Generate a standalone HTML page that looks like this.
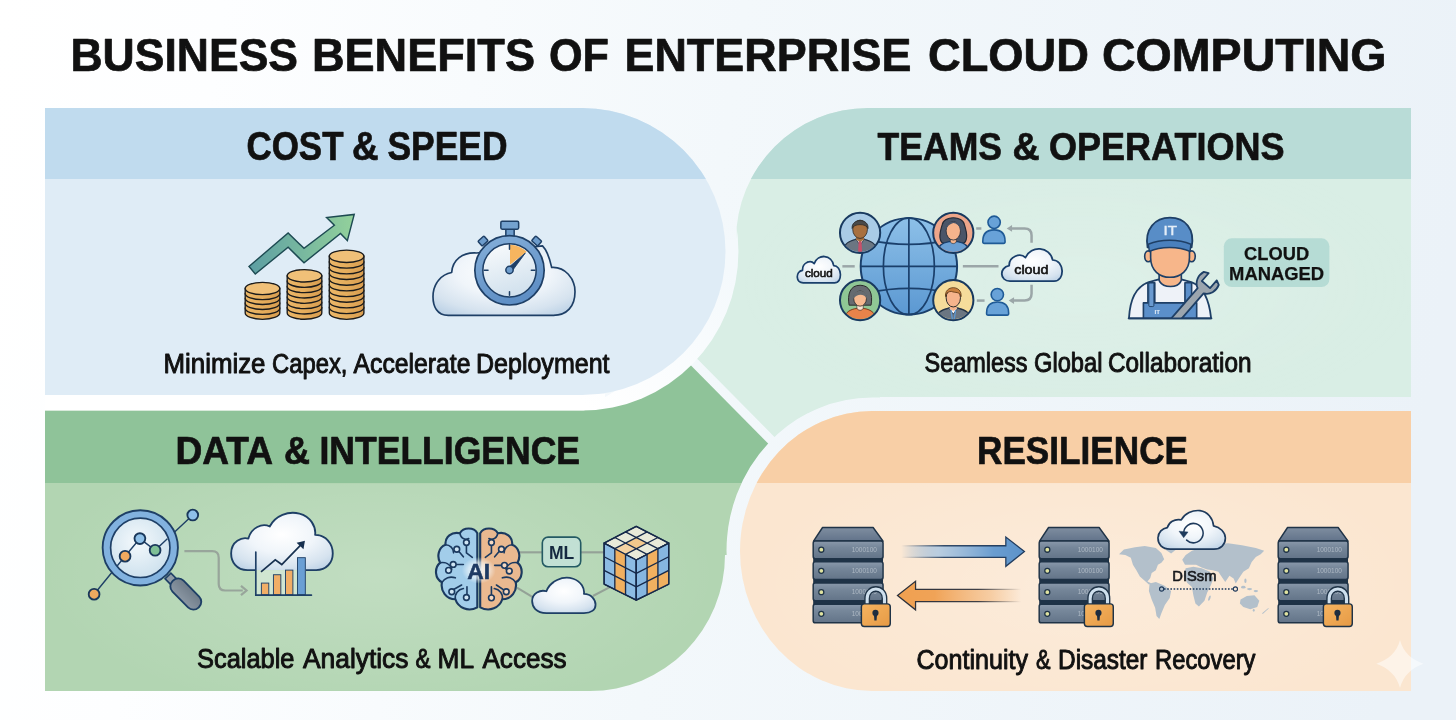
<!DOCTYPE html>
<html><head><meta charset="utf-8">
<style>
html,body{margin:0;padding:0;background:#f3f8fb;}
body{width:1456px;height:720px;overflow:hidden;font-family:"Liberation Sans",sans-serif;}
svg{display:block}
text{font-family:"Liberation Sans",sans-serif;fill:#111}
.h{font-weight:bold;stroke:#111;stroke-width:0.7px;stroke-linejoin:round}
.c{stroke:#111;stroke-width:0.95px;stroke-linejoin:round}
</style></head><body>
<svg width="1456" height="720" viewBox="0 0 1456 720">
<defs>
<linearGradient id="bg" gradientUnits="userSpaceOnUse" x1="0" y1="0" x2="1456" y2="220">
<stop offset="0" stop-color="#ffffff"/><stop offset="0.15" stop-color="#fdfeff"/><stop offset="0.5" stop-color="#f3f8fb"/><stop offset="1" stop-color="#ebf2f8"/>
</linearGradient>
<clipPath id="cTop"><rect x="0" y="0" width="1456" height="179"/></clipPath>
<clipPath id="cBot"><rect x="0" y="300" width="1456" height="183"/></clipPath>
<clipPath id="cAll"><path d="M1411,108 H868 A132,132 0 0 0 736,240 L690,240 L690,358 L775,444 H880 V397 H1411 Z"/><path d="M45,410.5 H584 L690,358 L775,444 V555 H725 A135,136 0 0 1 590,691 H45 Z"/><path d="M560,425 L690,345 L800,450 L760,480 Z"/><rect x="45" y="394" width="560" height="18"/></clipPath>
<path id="pBlue" d="M45,108 H582 A143.5,143.5 0 0 1 582,395 H45 Z"/>
<path id="pOrange" d="M1411,411 H872 A132,140 0 0 0 872,691 H1411 Z"/>
<path id="pMint" d="M1411,108 H868 A132,132 0 0 0 736,240 L690,240 L690,358 L775,444 H880 V397 H1411 Z"/>
<path id="pGreen" d="M45,410.5 H584 L690,358 L775,444 V555 H725 A135,136 0 0 1 590,691 H45 Z"/>
<radialGradient id="gCloud" cx="0.5" cy="0.38" r="0.72"><stop offset="0" stop-color="#ffffff"/><stop offset="0.45" stop-color="#f0f5fa"/><stop offset="0.8" stop-color="#d6e3ef"/><stop offset="1" stop-color="#bdd2e6"/></radialGradient>
<linearGradient id="gRing" gradientUnits="userSpaceOnUse" x1="600" y1="420" x2="740" y2="280"><stop offset="0" stop-color="#ffffff"/><stop offset="1" stop-color="#f4f9fc"/></linearGradient>
<filter id="fId" x="0" y="0" width="1456" height="720" filterUnits="userSpaceOnUse"><feOffset dx="0" dy="0"/></filter>
</defs>
<rect width="1456" height="720" fill="url(#bg)"/>
<g id="all" filter="url(#fId)">
<!-- PANELS -->
<defs>
<radialGradient id="gGlowG" gradientUnits="userSpaceOnUse" cx="380" cy="575" r="340" gradientTransform="translate(380,575) scale(1,0.42) translate(-380,-575)"><stop offset="0" stop-color="#ffffff" stop-opacity="0.2"/><stop offset="1" stop-color="#ffffff" stop-opacity="0"/></radialGradient>
<radialGradient id="gGlowO" gradientUnits="userSpaceOnUse" cx="1085" cy="585" r="340" gradientTransform="translate(1085,585) scale(1,0.42) translate(-1085,-585)"><stop offset="0" stop-color="#ffffff" stop-opacity="0.22"/><stop offset="1" stop-color="#ffffff" stop-opacity="0"/></radialGradient>
<radialGradient id="gGlowM" gradientUnits="userSpaceOnUse" cx="1080" cy="285" r="340" gradientTransform="translate(1080,285) scale(1,0.42) translate(-1080,-285)"><stop offset="0" stop-color="#ffffff" stop-opacity="0.14"/><stop offset="1" stop-color="#ffffff" stop-opacity="0"/></radialGradient>
</defs>
<g id="panels">
<use href="#pMint" fill="#d9eee5"/>
<use href="#pMint" fill="#b9dcd7" clip-path="url(#cTop)"/>
<use href="#pGreen" fill="#b2d5b2"/>
<use href="#pGreen" fill="#8fc399" clip-path="url(#cBot)"/>
<rect x="45" y="484" width="690" height="206" fill="url(#gGlowG)"/>
<rect x="745" y="180" width="666" height="216" fill="url(#gGlowM)"/>
<line x1="690" y1="358" x2="775" y2="444" stroke="url(#bg)" stroke-width="9"/>
<g clip-path="url(#cAll)">
<path d="M45,92.5 H582 A156.5,159 0 0 1 582,410.5 H45 Z" fill="url(#gRing)"/>
<use href="#pOrange" fill="none" stroke="url(#bg)" stroke-width="27"/>
</g>
<use href="#pBlue" fill="#dfecf6"/>
<use href="#pBlue" fill="#c0dbee" clip-path="url(#cTop)"/>
<use href="#pOrange" fill="#fbe6d0"/>
<use href="#pOrange" fill="#f8cfa6" clip-path="url(#cBot)"/>
<rect x="745" y="484" width="666" height="206" fill="url(#gGlowO)"/>
</g>
<!-- TEXT -->
<g id="texts">
<text class="h" x="70.48" y="71.3" font-size="46.4" textLength="227.54" lengthAdjust="spacingAndGlyphs">BUSINESS</text>
<text class="h" x="311.98" y="71.3" font-size="46.4" textLength="223.04" lengthAdjust="spacingAndGlyphs">BENEFITS</text>
<text class="h" x="548.98" y="71.3" font-size="46.4" textLength="60.02" lengthAdjust="spacingAndGlyphs">OF</text>
<text class="h" x="624.48" y="71.3" font-size="46.4" textLength="287.03" lengthAdjust="spacingAndGlyphs">ENTERPRISE</text>
<text class="h" x="927.98" y="71.3" font-size="46.4" textLength="161.04" lengthAdjust="spacingAndGlyphs">CLOUD</text>
<text class="h" x="1101.99" y="71.3" font-size="46.4" textLength="284.54" lengthAdjust="spacingAndGlyphs">COMPUTING</text>
<text class="h" x="246.49" y="160.1" font-size="40.2" textLength="97.01" lengthAdjust="spacingAndGlyphs">COST</text>
<text class="h" x="351.97" y="160.1" font-size="40.2" textLength="26.54" lengthAdjust="spacingAndGlyphs">&amp;</text>
<text class="h" x="387.49" y="160.1" font-size="40.2" textLength="120.02" lengthAdjust="spacingAndGlyphs">SPEED</text>
<text class="h" x="877.50" y="159.8" font-size="39.6" textLength="124.49" lengthAdjust="spacingAndGlyphs">TEAMS</text>
<text class="h" x="1012.46" y="159.8" font-size="39.6" textLength="27.08" lengthAdjust="spacingAndGlyphs">&amp;</text>
<text class="h" x="1048.99" y="159.8" font-size="39.6" textLength="235.51" lengthAdjust="spacingAndGlyphs">OPERATIONS</text>
<text class="h" x="175.45" y="463.5" font-size="38.4" textLength="97.58" lengthAdjust="spacingAndGlyphs">DATA</text>
<text class="h" x="284.01" y="463.5" font-size="38.4" textLength="26.00" lengthAdjust="spacingAndGlyphs">&amp;</text>
<text class="h" x="319.49" y="463.5" font-size="38.4" textLength="260.52" lengthAdjust="spacingAndGlyphs">INTELLIGENCE</text>
<text class="h" x="976.99" y="463.5" font-size="39.0" textLength="211.02" lengthAdjust="spacingAndGlyphs">RESILIENCE</text>
<text class="c" x="163.48" y="372.6" font-size="27" textLength="102.03" lengthAdjust="spacingAndGlyphs">Minimize</text>
<text class="c" x="271.98" y="372.6" font-size="27" textLength="75.53" lengthAdjust="spacingAndGlyphs">Capex,</text>
<text class="c" x="353.49" y="372.6" font-size="27" textLength="117.00" lengthAdjust="spacingAndGlyphs">Accelerate</text>
<text class="c" x="476.00" y="372.6" font-size="27" textLength="133.51" lengthAdjust="spacingAndGlyphs">Deployment</text>
<text class="c" x="924.51" y="372.0" font-size="27" textLength="102.99" lengthAdjust="spacingAndGlyphs">Seamless</text>
<text class="c" x="1033.98" y="372.0" font-size="27" textLength="68.53" lengthAdjust="spacingAndGlyphs">Global</text>
<text class="c" x="1107.99" y="372.0" font-size="27" textLength="143.51" lengthAdjust="spacingAndGlyphs">Collaboration</text>
<text class="c" x="197.00" y="668.3" font-size="27" textLength="97.50" lengthAdjust="spacingAndGlyphs">Scalable</text>
<text class="c" x="302.99" y="668.3" font-size="27" textLength="105.51" lengthAdjust="spacingAndGlyphs">Analytics</text>
<text class="c" x="415.54" y="668.3" font-size="27" textLength="14.97" lengthAdjust="spacingAndGlyphs">&amp;</text>
<text class="c" x="437.52" y="668.3" font-size="27" textLength="36.51" lengthAdjust="spacingAndGlyphs">ML</text>
<text class="c" x="482.47" y="668.3" font-size="27" textLength="84.03" lengthAdjust="spacingAndGlyphs">Access</text>
<text class="c" x="916.50" y="668.7" font-size="27" textLength="111.51" lengthAdjust="spacingAndGlyphs">Continuity</text>
<text class="c" x="1036.02" y="668.7" font-size="27" textLength="14.49" lengthAdjust="spacingAndGlyphs">&amp;</text>
<text class="c" x="1058.02" y="668.7" font-size="27" textLength="89.49" lengthAdjust="spacingAndGlyphs">Disaster</text>
<text class="c" x="1155.01" y="668.7" font-size="27" textLength="100.49" lengthAdjust="spacingAndGlyphs">Recovery</text>
</g>
<!-- COINS + ARROW -->
<defs>
<linearGradient id="gCoin" x1="0" y1="0" x2="1" y2="0"><stop offset="0" stop-color="#ebb768"/><stop offset="0.5" stop-color="#e5ad5c"/><stop offset="1" stop-color="#d89d50"/></linearGradient>
<linearGradient id="gArr" x1="0" y1="0" x2="1" y2="0"><stop offset="0" stop-color="#5c9ea3"/><stop offset="1" stop-color="#93d19b"/></linearGradient>
</defs>
<g id="coins">
<g transform="translate(230,200) scale(0.18054)">
<path d="M105,368 L322,183 L410,268 L578,140 L535,97 L688,80 L650,225 L612,185 L410,348 L322,262 L140,410 Z" fill="url(#gArr)" stroke="#1d4a52" stroke-width="8" stroke-linejoin="miter"/>
</g>
<path d="M245.20,308.18 V313.10 A17.30,6.20 0 0 0 279.80,313.10 V308.18 Z" fill="url(#gCoin)" stroke="#1b1b1b" stroke-width="1.35"/>
<path d="M245.20,303.26 V308.18 A17.30,6.20 0 0 0 279.80,308.18 V303.26 Z" fill="url(#gCoin)" stroke="#1b1b1b" stroke-width="1.35"/>
<path d="M245.20,298.34 V303.26 A17.30,6.20 0 0 0 279.80,303.26 V298.34 Z" fill="url(#gCoin)" stroke="#1b1b1b" stroke-width="1.35"/>
<path d="M245.20,293.42 V298.34 A17.30,6.20 0 0 0 279.80,298.34 V293.42 Z" fill="url(#gCoin)" stroke="#1b1b1b" stroke-width="1.35"/>
<path d="M245.20,288.50 V293.42 A17.30,6.20 0 0 0 279.80,293.42 V288.50 Z" fill="url(#gCoin)" stroke="#1b1b1b" stroke-width="1.35"/>
<ellipse cx="262.50" cy="288.50" rx="17.30" ry="6.20" fill="#f0c078" stroke="#1b1b1b" stroke-width="1.35"/>
<path d="M287.20,307.77 V313.10 A17.30,6.20 0 0 0 321.80,313.10 V307.77 Z" fill="url(#gCoin)" stroke="#1b1b1b" stroke-width="1.35"/>
<path d="M287.20,302.44 V307.77 A17.30,6.20 0 0 0 321.80,307.77 V302.44 Z" fill="url(#gCoin)" stroke="#1b1b1b" stroke-width="1.35"/>
<path d="M287.20,297.11 V302.44 A17.30,6.20 0 0 0 321.80,302.44 V297.11 Z" fill="url(#gCoin)" stroke="#1b1b1b" stroke-width="1.35"/>
<path d="M287.20,291.79 V297.11 A17.30,6.20 0 0 0 321.80,297.11 V291.79 Z" fill="url(#gCoin)" stroke="#1b1b1b" stroke-width="1.35"/>
<path d="M287.20,286.46 V291.79 A17.30,6.20 0 0 0 321.80,291.79 V286.46 Z" fill="url(#gCoin)" stroke="#1b1b1b" stroke-width="1.35"/>
<path d="M287.20,281.13 V286.46 A17.30,6.20 0 0 0 321.80,286.46 V281.13 Z" fill="url(#gCoin)" stroke="#1b1b1b" stroke-width="1.35"/>
<path d="M287.20,275.80 V281.13 A17.30,6.20 0 0 0 321.80,281.13 V275.80 Z" fill="url(#gCoin)" stroke="#1b1b1b" stroke-width="1.35"/>
<ellipse cx="304.50" cy="275.80" rx="17.30" ry="6.20" fill="#f0c078" stroke="#1b1b1b" stroke-width="1.35"/>
<path d="M329.30,307.42 V313.10 A17.30,6.20 0 0 0 363.90,313.10 V307.42 Z" fill="url(#gCoin)" stroke="#1b1b1b" stroke-width="1.35"/>
<path d="M329.30,301.74 V307.42 A17.30,6.20 0 0 0 363.90,307.42 V301.74 Z" fill="url(#gCoin)" stroke="#1b1b1b" stroke-width="1.35"/>
<path d="M329.30,296.06 V301.74 A17.30,6.20 0 0 0 363.90,301.74 V296.06 Z" fill="url(#gCoin)" stroke="#1b1b1b" stroke-width="1.35"/>
<path d="M329.30,290.38 V296.06 A17.30,6.20 0 0 0 363.90,296.06 V290.38 Z" fill="url(#gCoin)" stroke="#1b1b1b" stroke-width="1.35"/>
<path d="M329.30,284.70 V290.38 A17.30,6.20 0 0 0 363.90,290.38 V284.70 Z" fill="url(#gCoin)" stroke="#1b1b1b" stroke-width="1.35"/>
<path d="M329.30,279.02 V284.70 A17.30,6.20 0 0 0 363.90,284.70 V279.02 Z" fill="url(#gCoin)" stroke="#1b1b1b" stroke-width="1.35"/>
<path d="M329.30,273.34 V279.02 A17.30,6.20 0 0 0 363.90,279.02 V273.34 Z" fill="url(#gCoin)" stroke="#1b1b1b" stroke-width="1.35"/>
<path d="M329.30,267.66 V273.34 A17.30,6.20 0 0 0 363.90,273.34 V267.66 Z" fill="url(#gCoin)" stroke="#1b1b1b" stroke-width="1.35"/>
<path d="M329.30,261.98 V267.66 A17.30,6.20 0 0 0 363.90,267.66 V261.98 Z" fill="url(#gCoin)" stroke="#1b1b1b" stroke-width="1.35"/>
<path d="M329.30,256.30 V261.98 A17.30,6.20 0 0 0 363.90,261.98 V256.30 Z" fill="url(#gCoin)" stroke="#1b1b1b" stroke-width="1.35"/>
<ellipse cx="346.60" cy="256.30" rx="17.30" ry="6.20" fill="#f0c078" stroke="#1b1b1b" stroke-width="1.35"/>
</g>
<!-- CLOUD STOPWATCH -->
<defs>
<linearGradient id="gRingSW" x1="0" y1="0" x2="0.4" y2="1"><stop offset="0" stop-color="#86b0da"/><stop offset="1" stop-color="#5f8fc5"/></linearGradient>
<linearGradient id="gFace" x1="0" y1="0" x2="0.3" y2="1"><stop offset="0" stop-color="#fafcfd"/><stop offset="1" stop-color="#d3e2ee"/></linearGradient>
</defs>
<g id="stopwatch" transform="translate(420,210) scale(0.16667)">
<path d="M170,632 C100,632 78,575 78,520 C78,440 130,385 190,375 C195,300 255,252 340,258 L735,215 C770,250 780,300 790,345 C870,340 930,410 930,490 C930,580 880,632 800,632 Z" fill="url(#gCloud)" stroke="#1e3f66" stroke-width="10" stroke-linejoin="round"/>
<rect x="515" y="110" width="50" height="50" fill="#6d9ccc" stroke="#1e3f66" stroke-width="9"/>
<rect x="485" y="68" width="107" height="47" rx="8" fill="#74a2d0" stroke="#1e3f66" stroke-width="9"/>
<rect x="-24" y="-19" width="48" height="38" rx="5" transform="translate(378,186) rotate(-42)" fill="#6d9ccc" stroke="#1e3f66" stroke-width="9"/>
<rect x="-24" y="-19" width="48" height="38" rx="5" transform="translate(700,186) rotate(42)" fill="#6d9ccc" stroke="#1e3f66" stroke-width="9"/>
<circle cx="537" cy="362" r="208" fill="url(#gRingSW)" stroke="#1e3f66" stroke-width="10"/>
<circle cx="537" cy="362" r="160" fill="url(#gFace)" stroke="#1e3f66" stroke-width="9"/>
<path d="M540,208 A156,156 0 0 1 640,250 L540,328 Z" fill="#f6b55f"/>
<g stroke="#1e3f66" stroke-width="9" stroke-linecap="round">
<line x1="537" y1="208" x2="537" y2="236"/><line x1="668" y1="362" x2="690" y2="362"/><line x1="537" y1="490" x2="537" y2="512"/><line x1="385" y1="362" x2="408" y2="362"/>
</g>
<path d="M528,348 L632,258 L550,370 Z" fill="#1e3f66" stroke="#1e3f66" stroke-width="5" stroke-linejoin="round"/>
<circle cx="537" cy="360" r="22" fill="#6d9ccc" stroke="#1e3f66" stroke-width="9"/>
</g>
<!-- GLOBE + AVATARS -->
<defs>
<linearGradient id="gGlobe" x1="0" y1="0" x2="0" y2="1"><stop offset="0" stop-color="#8dc0e8"/><stop offset="1" stop-color="#5b98d2"/></linearGradient>
<clipPath id="av"><circle cx="0" cy="0" r="96"/></clipPath>
<path id="cloudS" d="M-85,50 C-125,50 -128,-5 -88,-12 C-90,-50 -45,-65 -25,-45 C-5,-95 70,-90 80,-35 C125,-35 130,50 85,50 Z"/>
</defs>
<g id="globe" transform="translate(785,200) scale(0.19917)">
<!-- connectors -->
<g stroke="#9ba6a8" stroke-width="12.5" fill="none" stroke-linecap="butt">
<line x1="288" y1="333" x2="350" y2="333"/><line x1="893" y1="333" x2="1072" y2="333"/>
<line x1="960" y1="143" x2="986" y2="143"/><line x1="963" y1="505" x2="1002" y2="505"/>
<path d="M1238,215 V178 Q1238,143 1203,143 H1135"/><path d="M1238,425 V470 Q1238,505 1203,505 H1145"/>
</g>
<path d="M1113,143 L1140,126 V160 Z" fill="#9ba6a8"/><path d="M1123,505 L1150,488 V522 Z" fill="#9ba6a8"/>
<!-- globe -->
<circle cx="622" cy="333" r="242" fill="url(#gGlobe)" stroke="#1a3f6b" stroke-width="10"/>
<g fill="none" stroke="#1a3f6b" stroke-width="8.5">
<line x1="379" y1="333" x2="865" y2="333"/><line x1="622" y1="90" x2="622" y2="576"/>
<ellipse cx="622" cy="333" rx="128" ry="243"/>
<path d="M418,200 Q622,245 826,200"/><path d="M418,466 Q622,421 826,466"/>
</g>
<!-- avatar TL -->
<g transform="translate(377,165)">
<circle r="100" fill="#a9cbe6"/>
<g clip-path="url(#av)">
<path d="M-85,100 C-85,50 -50,40 -20,32 L20,32 C50,40 85,50 85,100 Z" fill="#6b7682" stroke="#243447" stroke-width="6"/>
<path d="M-22,30 L0,62 L22,30 Z" fill="#f4f6f9" stroke="#243447" stroke-width="4"/>
<path d="M-7,40 L7,40 L10,95 L-10,95 Z" fill="#c8506a"/>
<path d="M-20,0 V35 L0,45 L20,35 V0 Z" fill="#a8703f"/>
<ellipse cx="0" cy="-18" rx="37" ry="46" fill="#a8703f" stroke="#2a2a2a" stroke-width="4"/>
<path d="M-40,-22 C-45,-75 45,-75 40,-22 C32,-48 -32,-48 -40,-22 Z" fill="#4a4a4a" stroke="#2a2a2a" stroke-width="4"/>
</g>
<circle r="101" fill="none" stroke="#18395f" stroke-width="10"/>
</g>
<!-- avatar TR -->
<g transform="translate(845,165)">
<circle r="100" fill="#eea68a"/>
<g clip-path="url(#av)">
<path d="M-52,52 C-80,35 -64,-15 -56,-40 C-48,-88 48,-88 56,-40 C64,-15 80,35 52,52 Z" fill="#4a5568" stroke="#232a36" stroke-width="6"/>
<path d="M-80,100 C-80,64 -50,48 -22,44 L22,44 C50,48 80,64 80,100 Z" fill="#6a9fd4" stroke="#1a3f6b" stroke-width="7"/>
<path d="M-15,18 V46 Q0,62 15,46 V18 Z" fill="#f6b48c" stroke="#232a36" stroke-width="3"/>
<ellipse cx="0" cy="-10" rx="36" ry="46" fill="#f6b48c" stroke="#232a36" stroke-width="4"/>
<path d="M-38,-8 C-44,-72 44,-72 38,-8 C34,-36 14,-50 0,-50 C-16,-46 -34,-34 -38,-8 Z" fill="#4a5568"/>
</g>
<circle r="101" fill="none" stroke="#18395f" stroke-width="10"/>
</g>
<!-- avatar BL -->
<g transform="translate(377,503)">
<circle r="100" fill="#8fc795"/>
<g clip-path="url(#av)">
<path d="M-55,25 C-65,-30 -50,-75 0,-75 C50,-75 65,-30 55,25 Z" fill="#666b70" stroke="#2a2a2a" stroke-width="5"/>
<path d="M-80,100 C-80,60 -45,45 -20,42 L20,42 C45,45 80,60 80,100 Z" fill="#e8834a" stroke="#7a3a1a" stroke-width="5"/>
<path d="M-16,15 V42 Q0,60 16,42 V15 Z" fill="#fbe3d0" stroke="#2a2a2a" stroke-width="3"/>
<ellipse cx="0" cy="-8" rx="32" ry="38" fill="#f7b990" stroke="#2a2a2a" stroke-width="4"/>
<path d="M-35,-8 C-38,-58 38,-58 35,-8 C22,-30 -10,-38 -35,-8 Z" fill="#666b70"/>
</g>
<circle r="101" fill="none" stroke="#18395f" stroke-width="10"/>
</g>
<!-- avatar BR -->
<g transform="translate(845,503)">
<circle r="100" fill="#f5dc9b"/>
<g clip-path="url(#av)">
<path d="M-88,100 C-88,58 -52,46 -22,40 L22,40 C52,46 88,58 88,100 Z" fill="#6b7682" stroke="#243447" stroke-width="7"/>
<path d="M-24,38 L0,70 L24,38 Z" fill="#f4f6f9" stroke="#243447" stroke-width="4"/>
<path d="M-12,48 L-4,100 M12,48 L4,100" stroke="#5e97cf" stroke-width="7" fill="none"/>
<path d="M-17,10 V44 L0,54 L17,44 V10 Z" fill="#f6b48c"/>
<ellipse cx="0" cy="-12" rx="36" ry="46" fill="#f6b48c" stroke="#2a2a2a" stroke-width="5"/>
<path d="M-39,-18 C-46,-78 46,-78 39,-18 C34,-44 10,-36 -10,-44 C-26,-44 -36,-36 -39,-18 Z" fill="#c9803f" stroke="#5a3516" stroke-width="4"/>
</g>
<circle r="101" fill="none" stroke="#18395f" stroke-width="10"/>
</g>
<!-- clouds -->
<g transform="translate(170,365)"><use href="#cloudS" transform="scale(0.93,1.02)" fill="url(#gCloud)" stroke="#1a3f6b" stroke-width="9" stroke-linejoin="round"/>
<text x="0" y="24" text-anchor="middle" font-size="52" stroke="#111" stroke-width="2.6" fill="#111" textLength="140" lengthAdjust="spacingAndGlyphs">cloud</text></g>
<g transform="translate(1240,345)"><use href="#cloudS" transform="scale(1.3,1.25)" fill="url(#gCloud)" stroke="#1a3f6b" stroke-width="7" stroke-linejoin="round"/>
<text x="-3" y="25" text-anchor="middle" font-size="62" stroke="#111" stroke-width="2.8" fill="#111" textLength="172" lengthAdjust="spacingAndGlyphs">cloud</text></g>
<!-- small people -->
<g fill="#68a2d8" stroke="#1f5a96" stroke-width="8" stroke-linejoin="round">
<circle cx="1050" cy="112" r="31"/><path d="M1001,218 Q993,218 993,208 C993,170 1015,150 1050,150 C1085,150 1105,170 1105,208 Q1105,218 1097,218 Z"/>
<circle cx="1066" cy="475" r="31"/><path d="M1020,578 Q1012,578 1012,568 C1012,530 1032,512 1067,512 C1102,512 1123,530 1123,568 Q1123,578 1115,578 Z"/>
</g>
</g>
<!-- IT PERSON + BADGE -->
<g id="itguy" transform="translate(1110,200) scale(0.18059)">
<!-- shirt -->
<path d="M105,655 C110,560 140,480 215,455 L270,440 L395,440 L450,455 C520,480 550,560 560,655 Z" fill="#eef2f8" stroke="#1e3f66" stroke-width="10" stroke-linejoin="round"/>
<!-- neck -->
<path d="M272,400 V445 C290,490 380,490 395,445 V400 Z" fill="#f7b68a" stroke="#1e3f66" stroke-width="9"/>
<!-- overalls -->
<path d="M210,458 H248 V570 H415 V458 H452 V570 H480 V655 H185 V570 H210 Z" fill="#5b8fca" stroke="#1e3f66" stroke-width="9" stroke-linejoin="round"/>
<rect x="215" y="460" width="28" height="130" rx="6" fill="#6a9ad0" stroke="#1e3f66" stroke-width="5"/>
<text x="262" y="632" font-size="34" font-weight="bold" fill="#eaf2fa" text-anchor="middle" style="fill:#eaf2fa">IT</text>
<!-- ears -->
<ellipse cx="212" cy="312" rx="20" ry="30" fill="#f7b68a" stroke="#1e3f66" stroke-width="9"/>
<ellipse cx="452" cy="312" rx="20" ry="30" fill="#f7b68a" stroke="#1e3f66" stroke-width="9"/>
<!-- face -->
<path d="M225,255 H440 V320 C440,390 390,428 332,428 C275,428 225,390 225,320 Z" fill="#f7b68a" stroke="#1e3f66" stroke-width="9"/>
<!-- cap -->
<path d="M208,262 C190,160 250,98 332,98 C415,98 472,160 452,262 C380,235 280,235 208,262 Z" fill="#588dc7" stroke="#1e3f66" stroke-width="10" stroke-linejoin="round"/>
<path d="M212,245 C280,215 380,215 448,245 L443,285 C380,255 280,255 218,285 Z" fill="#4a80bd" stroke="#1e3f66" stroke-width="8" stroke-linejoin="round"/>
<text x="334" y="196" font-size="74" text-anchor="middle" textLength="74" lengthAdjust="spacingAndGlyphs" style="fill:#e4eef8;stroke:#e4eef8;stroke-width:2.5">IT</text>
<!-- wrench -->
<clipPath id="cIT"><rect x="0" y="0" width="700" height="655"/></clipPath>
<g clip-path="url(#cIT)"><g transform="translate(528,472) rotate(41)">
<path d="M-22,40 V300 H22 V40 C55,25 68,-15 55,-50 L30,-62 V-5 H-30 V-62 L-55,-50 C-68,-15 -55,25 -22,40 Z" fill="#9ba5ae" stroke="#1e3f66" stroke-width="10" stroke-linejoin="round"/>
</g></g>
<line x1="103" y1="655" x2="562" y2="655" stroke="#1e3f66" stroke-width="10" stroke-linecap="round"/>
</g>
<g id="badge">
<rect x="1223.8" y="238.3" width="105.6" height="48.7" rx="8" fill="#b6dcd5"/>
<text class="h" x="1276.6" y="260" font-size="18.4" text-anchor="middle" textLength="65" lengthAdjust="spacingAndGlyphs" style="stroke-width:0.25px">CLOUD</text>
<text class="h" x="1276.6" y="279.6" font-size="18.4" text-anchor="middle" textLength="95" lengthAdjust="spacingAndGlyphs" style="stroke-width:0.25px">MANAGED</text>
</g>
<!-- MAGNIFIER + CLOUD CHART -->
<defs>
<radialGradient id="gLens" cx="0.45" cy="0.4" r="0.6"><stop offset="0" stop-color="#f4f9fc"/><stop offset="1" stop-color="#cfe2ee"/></radialGradient>
<linearGradient id="gHandle" x1="0" y1="0" x2="1" y2="0"><stop offset="0" stop-color="#8b97a3"/><stop offset="1" stop-color="#6f7c89"/></linearGradient>
</defs>
<g id="magnifier" transform="translate(75,495) scale(0.18544)">
<!-- gray connector -->
<path d="M590,303 H740 Q775,303 775,338 V480 Q775,515 810,515 H905" fill="none" stroke="#98a59b" stroke-width="12"/>
<path d="M895,490 L925,515 L895,540" fill="none" stroke="#98a59b" stroke-width="12" stroke-linejoin="miter"/>
<!-- data line behind -->
<polyline points="103,535 270,330 350,235 432,298 635,108" fill="none" stroke="#1e3f66" stroke-width="7.5"/>
<!-- handle -->
<g transform="translate(505,440) rotate(-44.5)">
<rect x="-22" y="-5" width="44" height="45" fill="#8f9ba6" stroke="#1e3f66" stroke-width="9"/>
<rect x="-42" y="32" width="84" height="200" rx="40" fill="url(#gHandle)" stroke="#1e3f66" stroke-width="10"/>
</g>
<!-- lens -->
<circle cx="352" cy="285" r="203" fill="#82b2df" stroke="#1e3f66" stroke-width="10"/>
<circle cx="352" cy="285" r="160" fill="url(#gLens)" stroke="#1e3f66" stroke-width="9"/>
<polyline points="226,384 270,330 350,235 432,298 498,236" fill="none" stroke="#1e3f66" stroke-width="7.5"/>
<g stroke="#19375a" stroke-width="10">
<circle cx="103" cy="535" r="29" fill="#efa95f"/>
<circle cx="270" cy="330" r="29" fill="#efa95f"/>
<circle cx="350" cy="235" r="29" fill="#8fc0e8"/>
<circle cx="432" cy="298" r="29" fill="#7fc096"/>
<circle cx="635" cy="108" r="29" fill="#8fc0e8"/>
</g>
<!-- cloud -->
<path d="M930,405 C870,405 842,360 842,315 C842,250 900,225 935,235 C950,175 1010,150 1050,170 C1080,110 1150,85 1210,100 C1270,115 1300,170 1295,215 C1350,215 1390,260 1390,315 C1390,365 1355,405 1300,405 Z" fill="url(#gCloud)"/>
<path d="M975,405 H930 C870,405 842,360 842,315 C842,250 900,225 935,235 C950,175 1010,150 1050,170 C1080,110 1150,85 1210,100 C1270,115 1300,170 1295,215 C1350,215 1390,260 1390,315 C1390,365 1355,405 1300,405 H1245" fill="none" stroke="#1e3f66" stroke-width="10" stroke-linejoin="round"/>
<rect x="979" y="405" width="266" height="132" fill="#ffffff" opacity="0.3"/>
<!-- bars -->
<g stroke="#1e3f66" stroke-width="5">
<rect x="1005" y="475" width="40" height="63" fill="#f1ae66"/>
<rect x="1070" y="430" width="40" height="108" fill="#f1ae66"/>
<rect x="1135" y="405" width="40" height="133" fill="#f1ae66"/>
<rect x="1200" y="338" width="42" height="200" fill="#6a9fd4"/>
</g>
<path d="M975,308 V540 H1275" fill="none" stroke="#1e3f66" stroke-width="9" stroke-linecap="round"/>
<polyline points="1003,415 1080,350 1115,375 1222,265" fill="none" stroke="#17304f" stroke-width="9" stroke-linejoin="miter"/>
<path d="M1240,247 L1195,258 L1232,292 Z" fill="#17304f"/>
</g>
<!-- BRAIN + ML + CLOUD + CUBE -->
<g id="brain" transform="translate(425,510) scale(0.17857)">
<!-- connectors -->
<g stroke="#94a297" stroke-width="12" fill="none">
<line x1="515" y1="237" x2="660" y2="237"/><line x1="870" y1="237" x2="1005" y2="237"/>
<line x1="515" y1="435" x2="610" y2="492"/><line x1="940" y1="482" x2="1035" y2="432"/>
</g>
<!-- brain left -->
<path d="M293,130 C275,95 215,95 195,130 C150,120 110,150 115,195 C75,210 65,260 85,295 C50,325 55,385 95,405 C85,455 120,500 170,500 C185,545 240,575 293,545 Z" fill="#a2cdea" stroke="#1b3a60" stroke-width="12" stroke-linejoin="round"/>
<!-- brain right -->
<path d="M309,130 C328,95 388,95 408,130 C453,120 493,150 488,195 C528,210 538,260 518,295 C553,325 548,385 508,405 C518,455 483,500 433,500 C418,545 363,575 309,545 Z" fill="#eab990" stroke="#1b3a60" stroke-width="12" stroke-linejoin="round"/>
<!-- folds -->
<g fill="none" stroke="#1b3a60" stroke-width="9" stroke-linecap="round">
<path d="M195,130 C200,160 225,170 245,160"/><path d="M115,195 C140,195 160,215 160,240"/><path d="M85,295 C115,290 140,305 150,330"/><path d="M95,405 C110,380 140,370 170,380"/><path d="M170,500 C165,470 185,445 215,440"/>
<path d="M408,130 C403,160 378,170 358,160"/><path d="M488,195 C463,195 443,215 443,240"/><path d="M518,295 C488,290 463,305 453,330"/><path d="M508,405 C493,380 463,370 433,380"/><path d="M433,500 C438,470 418,445 388,440"/>
<!-- circuits -->
<path d="M232,195 V240 L265,265"/><path d="M190,232 L215,262"/><path d="M170,305 H215"/><path d="M160,445 L205,420"/><path d="M235,478 V430"/>
<path d="M372,195 V240 L338,265"/><path d="M415,232 L390,262"/><path d="M433,310 H390"/><path d="M445,450 L400,420"/><path d="M372,480 V430"/>
</g>
<g fill="#cfe5f4" stroke="#1b3a60" stroke-width="9">
<circle cx="232" cy="182" r="16"/><circle cx="178" cy="220" r="16"/><circle cx="158" cy="305" r="16"/><circle cx="132" cy="338" r="16"/><circle cx="150" cy="458" r="16"/><circle cx="232" cy="490" r="16"/>
</g>
<g fill="#f6d9c2" stroke="#1b3a60" stroke-width="9">
<circle cx="372" cy="182" r="16"/><circle cx="428" cy="220" r="16"/><circle cx="445" cy="310" r="16"/><circle cx="472" cy="342" r="16"/><circle cx="455" cy="458" r="16"/><circle cx="372" cy="492" r="16"/>
</g>
<defs><radialGradient id="gGlow"><stop offset="0" stop-color="#f4f9fc" stop-opacity="0.95"/><stop offset="0.6" stop-color="#f4f9fc" stop-opacity="0.6"/><stop offset="1" stop-color="#f4f9fc" stop-opacity="0"/></radialGradient></defs>
<ellipse cx="301" cy="338" rx="95" ry="75" fill="url(#gGlow)"/>
<text x="301" y="384" font-size="126" font-weight="bold" text-anchor="middle" textLength="128" lengthAdjust="spacingAndGlyphs" style="fill:#1e3a63;stroke:#1e3a63;stroke-width:3">AI</text>
<!-- ML box -->
<rect x="657" y="152" width="215" height="166" rx="32" fill="#c2e0d4" stroke="#245a63" stroke-width="9"/>
<text x="765" y="276" font-size="104" font-weight="bold" text-anchor="middle" textLength="142" lengthAdjust="spacingAndGlyphs" style="fill:#14283f">ML</text>
<!-- cloud -->
<path d="M680,577 C620,577 600,540 600,510 C600,465 645,445 680,455 C700,400 770,365 830,385 C875,400 895,440 890,470 C930,470 955,500 955,530 C955,560 930,577 890,577 Z" fill="url(#gCloud)" stroke="#1e3f66" stroke-width="10" stroke-linejoin="round"/>
<!-- cube -->
<g stroke="#16294a" stroke-width="7.5" stroke-linejoin="round">
<path d="M1183,92 L1365,185 L1183,280 L1003,185 Z" fill="#e9ead9"/>
<path d="M1003,185 L1183,280 V505 L1003,415 Z" fill="#8dbce4"/>
<path d="M1365,185 L1183,280 V505 L1365,415 Z" fill="#86b6e0"/>
</g>
<!-- cube coloured cells -->
<path d="M1063,216.7 L1123,248.3 V473.3 L1063,443.3 Z" fill="#f1b060"/>
<path d="M1243.7,248.3 L1304.3,216.7 V445 L1243.7,475 Z" fill="#f1b060"/>
<path d="M1304.3,368.9 L1365,338.3 V415 L1304.3,445 Z" fill="#f1b060"/>
<path d="M1183.7,154 L1244.3,185 L1184.3,216 L1123.7,185 Z" fill="#f3c88c"/>
<path d="M1123.7,185 L1184.3,216 L1124.3,247 L1063.7,216 Z" fill="#f5d3a3"/>
<g stroke="#16294a" stroke-width="7.5" fill="none" stroke-linejoin="round">
<path d="M1123,123 L1304.3,216.7 V445 M1063,154 L1243.7,248.3 V475 M1243.7,123 L1063,216.7 V443.3 M1304.3,154 L1123,248.3 V473.3"/>
<path d="M1003,261.7 L1183,355 L1365,261.7 M1003,338.3 L1183,430 L1365,338.3"/>
<path d="M1183,92 L1365,185 V415 L1183,505 L1003,415 V185 Z M1003,185 L1183,280 L1365,185 M1183,280 V505"/>
</g>
</g>
<!-- RESILIENCE: servers, arrows, map -->
<defs>
<linearGradient id="gSrv" x1="0" y1="0" x2="0" y2="1"><stop offset="0" stop-color="#8a99ab"/><stop offset="0.35" stop-color="#76879a"/><stop offset="1" stop-color="#637488"/></linearGradient>
<linearGradient id="gSrvTop" x1="0" y1="0" x2="0" y2="1"><stop offset="0" stop-color="#7f8ea0"/><stop offset="1" stop-color="#62738a"/></linearGradient>
<linearGradient id="gLock" x1="0" y1="0" x2="1" y2="1"><stop offset="0" stop-color="#f6b460"/><stop offset="1" stop-color="#e69a45"/></linearGradient>
<linearGradient id="gBlueArr" x1="0" y1="0" x2="1" y2="0"><stop offset="0" stop-color="#6a9dd0" stop-opacity="0"/><stop offset="0.3" stop-color="#a9c6e2" stop-opacity="0.8"/><stop offset="0.75" stop-color="#6a9dd0"/><stop offset="1" stop-color="#5c92c9"/></linearGradient>
<linearGradient id="gBlueArrS" x1="0" y1="0" x2="1" y2="0"><stop offset="0" stop-color="#1f3a5c" stop-opacity="0"/><stop offset="0.35" stop-color="#1f3a5c" stop-opacity="0.9"/><stop offset="1" stop-color="#1f3a5c"/></linearGradient>
<linearGradient id="gOrArr" x1="0" y1="0" x2="1" y2="0"><stop offset="0" stop-color="#f0a050"/><stop offset="0.3" stop-color="#f0a357"/><stop offset="0.75" stop-color="#f5c595" stop-opacity="0.8"/><stop offset="1" stop-color="#f5c595" stop-opacity="0"/></linearGradient>
<linearGradient id="gOrArrS" x1="0" y1="0" x2="1" y2="0"><stop offset="0" stop-color="#2a2f3a"/><stop offset="0.65" stop-color="#2a2f3a" stop-opacity="0.9"/><stop offset="1" stop-color="#2a2f3a" stop-opacity="0"/></linearGradient>
<g id="server">
<!-- zoom coords (scale 5.5385), origin at (800,510) -->
<path d="M125,97 H405 L460,172 H75 Z" fill="url(#gSrvTop)" stroke="#1f3347" stroke-width="8" stroke-linejoin="round"/>
<rect x="73" y="180" width="387" height="440" rx="12" fill="#1f3347"/>
<g fill="url(#gSrv)" stroke="#1f3347" stroke-width="8">
<rect x="73" y="172" width="387" height="98" rx="12"/>
<rect x="73" y="287" width="387" height="98" rx="12"/>
<rect x="73" y="404" width="387" height="98" rx="12"/>
<rect x="73" y="522" width="387" height="103" rx="12"/>
</g>
<g fill="#e0e3a0" stroke="#1f3347" stroke-width="7">
<circle cx="118" cy="220" r="14"/><circle cx="118" cy="337" r="14"/><circle cx="118" cy="455" r="14"/><circle cx="118" cy="575" r="14"/>
</g>
<g font-size="40" style="fill:#b7c1cb" opacity="0.85">
<text x="286" y="234" textLength="140" lengthAdjust="spacingAndGlyphs" style="fill:#b7c1cb">1000100</text>
<text x="286" y="351" textLength="140" lengthAdjust="spacingAndGlyphs" style="fill:#b7c1cb">1000100</text>
<text x="286" y="468" textLength="140" lengthAdjust="spacingAndGlyphs" style="fill:#b7c1cb">1000100</text>
<text x="286" y="588" textLength="140" lengthAdjust="spacingAndGlyphs" style="fill:#b7c1cb">1000100</text>
</g>
</g>
<g id="lock">
<!-- lock -->
<path d="M372,530 V490 C372,420 468,420 468,490 V530" fill="none" stroke="#1f3347" stroke-width="32"/>
<path d="M372,530 V490 C372,420 468,420 468,490 V530" fill="none" stroke="#cfe0ee" stroke-width="17"/>
<rect x="340" y="520" width="160" height="125" rx="16" fill="url(#gLock)" stroke="#1f3347" stroke-width="8"/>
<circle cx="418" cy="570" r="17" fill="#1f2d3f"/><path d="M409,575 H427 L424,612 H412 Z" fill="#1f2d3f"/>
</g>
</defs>
<g id="resilience">
<use href="#server" transform="translate(800,510) scale(0.18055)"/><use href="#lock" transform="translate(800,510) scale(0.18055)"/>
<use href="#server" transform="translate(1026,510) scale(0.18055)"/><use href="#lock" transform="translate(1023,510) scale(0.18055)"/>
<use href="#server" transform="translate(1265,510) scale(0.18055)"/><use href="#lock" transform="translate(1262,510) scale(0.18055)"/>
<!-- arrows -->
<g transform="translate(800,510) scale(0.18055)">
<path d="M560,198 H1140 V150 L1243,230 L1140,312 V262 H560 Z" fill="url(#gBlueArr)"/>
<path d="M560,198 H1140 V150 L1243,230 L1140,312 V262 H560" fill="none" stroke="url(#gBlueArrS)" stroke-width="7" stroke-linejoin="miter"/>
<path d="M1225,440 H640 V395 L540,473 L640,553 V508 H1225 Z" fill="url(#gOrArr)"/>
<path d="M1225,440 H640 V395 L540,473 L640,553 V508 H1225" fill="none" stroke="url(#gOrArrS)" stroke-width="7" stroke-linejoin="miter"/>
</g>
<!-- world map -->
<g transform="translate(1110,530) scale(0.13889)" fill="#b3c0cb">
<path d="M65,175 L100,140 L180,125 L250,115 L330,130 L370,165 L390,210 L370,235 L345,250 L330,290 L300,310 L290,345 L270,370 L300,385 L280,392 L250,365 L215,335 L190,290 L165,250 L150,200 L110,180 Z"/>
<path d="M400,105 L470,95 L490,130 L440,170 L405,145 Z"/>
<path d="M285,385 L330,375 L390,400 L440,440 L430,490 L395,540 L370,600 L355,640 L335,620 L325,560 L300,500 L280,440 Z"/>
<path d="M520,215 L545,180 L590,150 L650,130 L760,105 L850,95 L950,110 L1050,130 L1110,150 L1085,175 L1050,195 L1020,230 L1000,275 L960,300 L930,345 L905,385 L890,350 L860,330 L830,375 L810,345 L780,300 L740,290 L700,285 L660,270 L620,250 L580,250 L540,250 Z"/>
<path d="M545,275 L600,265 L660,275 L720,300 L745,350 L725,400 L700,450 L680,510 L640,550 L615,530 L600,470 L590,410 L555,380 L530,330 Z"/>
<path d="M940,500 L985,475 L1040,470 L1075,510 L1060,555 L1010,570 L960,555 L935,530 Z"/>
<ellipse cx="960" cy="412" rx="16" ry="10"/><ellipse cx="1005" cy="425" rx="18" ry="8"/><ellipse cx="1050" cy="440" rx="16" ry="8"/><ellipse cx="975" cy="365" rx="8" ry="16"/>
<ellipse cx="716" cy="490" rx="7" ry="20" transform="rotate(20 716 490)"/><path d="M1095,600 L1140,562 L1143,566 L1100,604 Z"/><ellipse cx="1035" cy="578" rx="7" ry="10"/>
</g>
<!-- dotted line + text -->
<line x1="1164" y1="589" x2="1233" y2="589" stroke="#1f3a5c" stroke-width="1.5" stroke-dasharray="1.6 1.6"/>
<circle cx="1161.6" cy="589" r="2.1" fill="none" stroke="#1f3a5c" stroke-width="1.1"/><circle cx="1235.4" cy="589" r="2.1" fill="none" stroke="#1f3a5c" stroke-width="1.1"/>
<text x="1172.3" y="580.7" font-size="14.6" textLength="44.2" lengthAdjust="spacingAndGlyphs" style="fill:#16181c;stroke:#16181c;stroke-width:0.6px">DISsm</text>
<!-- refresh cloud -->
<g transform="translate(1150,505) scale(0.069444)">
<path d="M290,635 C170,635 115,560 115,480 C115,390 180,335 250,325 C270,250 350,195 450,215 C500,120 610,70 720,80 C830,95 905,190 915,300 C1010,320 1085,390 1085,480 C1085,570 1020,635 920,635 Z" fill="url(#gCloud)" stroke="#1e3a5c" stroke-width="24" stroke-linejoin="round"/>
<path d="M485,400 A140,140 0 1 1 528,506" fill="none" stroke="#1e3a5c" stroke-width="22" stroke-linecap="round"/>
<path d="M418,378 L548,388 L485,472 Z" fill="#1e3a5c" stroke="#1e3a5c" stroke-width="6" stroke-linejoin="round"/>
</g>
<!-- sparkle -->
<path d="M1400,640 C1403,652 1411.8,659.75 1423.6,663.75 C1411.8,667.75 1403,676 1400,688 C1397,676 1388.2,667.75 1376.3,663.75 C1388.2,659.75 1397,652 1400,640 Z" fill="#ffffff" opacity="0.5"/>
</g>
</g>
</svg>
</body></html>
